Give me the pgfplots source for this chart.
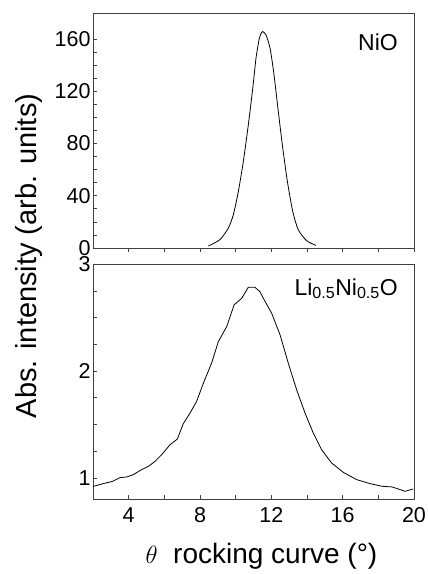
\documentclass[border=0pt]{standalone}
\usepackage{fontspec}
\setmainfont{Liberation Sans}
\usepackage{pgfplots}
\pgfplotsset{compat=1.18}
\pgfplotstableread{
x y
8.47 1.5
9.12 6.4
9.59 15.3
9.87 25.5
10.15 43.3
10.43 66.3
10.71 94.4
10.96 122.5
11.14 145.4
11.33 160.8
11.45 165.0
11.52 165.8
11.60 165.0
11.70 163.3
11.93 153.0
12.15 132.7
12.39 104.6
12.64 76.6
12.90 51.0
13.20 28.0
13.51 14.0
13.98 5.6
14.50 2.0
}\nio
\pgfplotstableread{
x y
2.00 0.920
2.58 0.947
3.10 0.968
3.51 1.003
3.89 1.009
4.26 1.031
4.73 1.078
5.10 1.108
5.48 1.155
5.85 1.218
6.32 1.311
6.73 1.364
7.06 1.507
7.44 1.607
7.81 1.716
8.19 1.888
8.65 2.075
9.03 2.277
9.50 2.417
9.91 2.620
10.34 2.682
10.71 2.785
11.08 2.785
11.36 2.744
11.55 2.682
12.02 2.542
12.49 2.339
12.95 2.075
13.42 1.825
13.89 1.607
14.35 1.421
14.82 1.264
15.38 1.140
16.04 1.052
16.79 0.984
17.53 0.947
18.19 0.922
18.75 0.916
19.12 0.897
19.50 0.875
19.96 0.897
}\lino
\begin{document}
\begin{tikzpicture}
\path[use as bounding box] (0,0) rectangle (428pt,-574pt);
\pgfplotsset{
  common/.style={
    width=321pt, height=235pt, scale only axis,
    xmin=2, xmax=20,
    xtick={4,8,12,16,20}, minor x tick num=1,
    xtick pos=bottom, ytick pos=left,
    tick align=inside,
    major tick length=4pt, minor tick length=4pt,
    axis line style={line width=0.8pt, black!75},
    tick style={line width=0.7pt, black!75},
    ticklabel style={font=\fontsize{21.5}{25}\selectfont},
    xticklabel style={yshift=-5pt},
    yticklabel style={xshift=1pt},
    /pgf/number format/assume math mode=true,
    minor y tick num=3,
  }
}
\begin{axis}[common, anchor=north west, at={(93pt,-13pt)},
  ymin=0, ymax=180, ytick={0,40,80,120,160}, xticklabels={},
  major x tick style={yshift=-4pt}, minor x tick style={yshift=-4pt}]
\addplot[black, line width=0.8pt, smooth, tension=0.4] table[x=x,y=y] {\nio};
\node[anchor=base east, inner sep=0pt, font=\fontsize{23}{27}\selectfont]
  at (rel axis cs:1,1) [xshift=-16pt, yshift=-37pt] {NiO};
\end{axis}
\begin{axis}[common, anchor=north west, at={(93pt,-264.3pt)},
  ymin=0.8, ymax=3, ytick={1,2,3},
  xlabel={$\theta$\ \ rocking curve (°)},
  xlabel style={font=\fontsize{28}{32}\selectfont, at={(axis description cs:0.5,0)},
    anchor=base, yshift=-64pt, xshift=8pt, inner sep=0pt}]
\addplot[black, line width=0.8pt] table[x=x,y=y] {\lino};
\node[anchor=base east, inner sep=0pt, font=\fontsize{23}{27}\selectfont]
  at (rel axis cs:1,1) [xshift=-16pt, yshift=-30.7pt] {Li\textsubscript{0.5}Ni\textsubscript{0.5}O};
\end{axis}
\node[rotate=90, anchor=base, inner sep=0pt, font=\fontsize{29}{33}\selectfont]
  at (37pt,-256pt) {Abs. intensity (arb. units)};
\end{tikzpicture}
\end{document}
